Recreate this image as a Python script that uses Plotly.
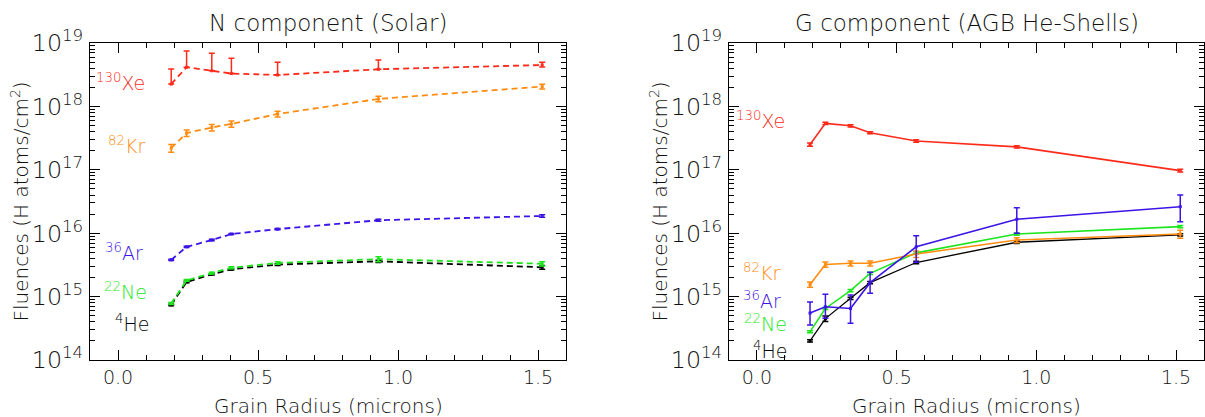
import plotly.graph_objects as go

# ---------------- data ----------------
radius = [0.19, 0.245, 0.335, 0.405, 0.57, 0.93, 1.515]

# N component (Solar)
xe_n = [2.25e18, 4.15e18, 3.65e18, 3.3e18, 3.13e18, 3.85e18, 4.5e18]
xe_n_hi = [3.89e18, 7.48e18, 6.89e18, 5.74e18, 4.96e18, 5.4e18, 4.97e18]
xe_n_lo = [2.25e18, 4.15e18, 3.65e18, 3.3e18, 3.13e18, 3.85e18, 4.2e18]
kr_n = [2.2e17, 3.8e17, 4.65e17, 5.3e17, 7.6e17, 1.31e18, 2.06e18]
kr_n_err = [0.3e17, 0.45e17, 0.55e17, 0.6e17, 0.8e17, 1.3e17, 1.8e17]
ar_n = [3.8e15, 6.1e15, 7.8e15, 9.7e15, 1.16e16, 1.6e16, 1.87e16]
ar_n_err = [1e14, 1.5e14, 2e14, 2e14, 3e14, 6e14, 9e14]
ne_n = [7.8e14, 1.8e15, 2.35e15, 2.85e15, 3.4e15, 3.9e15, 3.3e15]
ne_n_err = [3e13, 6e13, 8e13, 1e14, 1.5e14, 3.5e14, 2.5e14]
he_n = [7.4e14, 1.7e15, 2.25e15, 2.7e15, 3.2e15, 3.6e15, 2.9e15]
he_n_err = [2e13, 5e13, 6e13, 8e13, 1e14, 1.5e14, 2e14]

# G component (AGB He-Shells)
xe_g = [2.5e17, 5.4e17, 4.95e17, 3.85e17, 2.85e17, 2.3e17, 9.7e16]
xe_g_err = [1.5e16, 2e16, 2e16, 1.5e16, 1.2e16, 1e16, 5e15]
kr_g = [1.55e15, 3.2e15, 3.35e15, 3.35e15, 4.7e15, 7.8e15, 9.7e15]
kr_g_err = [1.5e14, 3e14, 3e14, 3e14, 5.5e14, 7e14, 1.4e15]
ar_g = [5.5e14, 6.9e14, 6.5e14, 1.66e15, 6.1e15, 1.66e16, 2.62e16]
ar_g_hi = [8.2e14, 1.09e15, 1.06e15, 2.42e15, 9.1e15, 2.52e16, 4.0e16]
ar_g_lo = [3.56e14, 4.55e14, 3.8e14, 1.13e15, 3.47e15, 9.95e15, 1.52e16]
ne_g = [2.8e14, 6.5e14, 1.24e15, 2.33e15, 4.9e15, 9.7e15, 1.27e16]
ne_g_err = [1e13, 2.5e13, 5e13, 9e13, 2e14, 4e14, 5e14]
he_g = [2.0e14, 4.5e14, 9.4e14, 1.66e15, 3.45e15, 7.2e15, 9.4e15]
he_g_err = [8e12, 4.5e13, 4e13, 7e13, 1.5e14, 3e14, 4e14]

titles = ["N component (Solar)", "G component (AGB He-Shells)"]
ytitle = "Fluences (H atoms/cm<sup>2</sup>)"
xtitle = "Grain Radius (microns)"

iso_names = ["<sup>130</sup>Xe", "<sup>82</sup>Kr", "<sup>36</sup>Ar", "<sup>22</sup>Ne", "<sup>4</sup>He"]
label_x_n = [0.105, 0.105, 0.098, 0.112, 0.119]
label_logy_n = [18.39, 17.39, 15.71, 15.09, 14.58]
label_x_g = [0.107, 0.088, 0.093, 0.115, 0.115]
label_logy_g = [17.79, 15.39, 14.95, 14.58, 14.16]

colors = ["#ff2a1a", "#ff8c10", "#3c14e6", "#1ee61e", "#000000"]

FONT = "DejaVu Sans"
W, H = 1205, 417

fig = go.Figure()


def add_series(xref, yref, y, up, dn, color, dash, width):
    fig.add_trace(go.Scatter(
        x=radius, y=y, mode="lines+markers", xaxis=xref, yaxis=yref,
        line=dict(color=color, width=width, dash=dash),
        marker=dict(color=color, size=3, symbol="square"),
        error_y=dict(type="data", symmetric=False, array=up, arrayminus=dn,
                     color=color, thickness=1.5, width=3),
        showlegend=False, hoverinfo="skip"))


dash_n = "6px,4px"
# N panel
add_series("x", "y", he_n, he_n_err, he_n_err, colors[4], dash_n, 1.8)
add_series("x", "y", ne_n, ne_n_err, ne_n_err, colors[3], dash_n, 1.8)
add_series("x", "y", ar_n, ar_n_err, ar_n_err, colors[2], dash_n, 1.8)
add_series("x", "y", kr_n, kr_n_err, kr_n_err, colors[1], dash_n, 1.8)
add_series("x", "y", xe_n,
           [h - v for h, v in zip(xe_n_hi, xe_n)],
           [v - l for l, v in zip(xe_n_lo, xe_n)], colors[0], dash_n, 1.8)
# G panel
add_series("x2", "y2", he_g, he_g_err, he_g_err, colors[4], "solid", 1.3)
add_series("x2", "y2", ne_g, ne_g_err, ne_g_err, colors[3], "solid", 1.6)
add_series("x2", "y2", kr_g, kr_g_err, kr_g_err, colors[1], "solid", 1.6)
add_series("x2", "y2", ar_g,
           [h - v for h, v in zip(ar_g_hi, ar_g)],
           [v - l for l, v in zip(ar_g_lo, ar_g)], colors[2], "solid", 1.6)
add_series("x2", "y2", xe_g, xe_g_err, xe_g_err, colors[0], "solid", 1.6)

ydom = [1 - 360 / H, 1 - 43 / H]
xdom1 = [90 / W, 566 / W]
xdom2 = [729 / W, 1204 / W]

axis_common = dict(showline=True, linecolor="black", linewidth=1, mirror="allticks",
                   ticks="inside", ticklen=10, tickcolor="black", tickwidth=1,
                   showgrid=False, zeroline=False, automargin=False,
                   tickfont=dict(family=FONT, size=19, color="#111", weight=200))

xax = dict(axis_common, range=[-0.1, 1.6], dtick=0.5, tick0=0, tickformat=".1f",
           minor=dict(ticks="inside", ticklen=5, dtick=0.1, tickcolor="black", showgrid=False),
           ticklabelstandoff=0)
yax = dict(axis_common, type="log", range=[14, 19], dtick=1, exponentformat="power",
           minor=dict(ticks="inside", ticklen=5, dtick="D1", tickcolor="black", showgrid=False),
           ticklabelstandoff=2)

fig.update_layout(
    width=W, height=H, margin=dict(l=0, r=0, t=0, b=0, autoexpand=False),
    plot_bgcolor="white", paper_bgcolor="white",
    xaxis=dict(xax, domain=xdom1, anchor="y"),
    yaxis=dict(yax, domain=ydom, anchor="x"),
    xaxis2=dict(xax, domain=xdom2, anchor="y2"),
    yaxis2=dict(yax, domain=ydom, anchor="x2"),
)

ann = []
title_font = dict(family=FONT, size=23, color="#111", weight=200)
for i, (dom, xr, yr) in enumerate([(xdom1, "x", "y"), (xdom2, "x2", "y2")]):
    cx = (dom[0] + dom[1]) / 2
    ann.append(dict(text=titles[i], x=cx, y=1 - 23 / H, xref="paper", yref="paper",
                    showarrow=False, font=title_font, xanchor="center", yanchor="middle"))
    ann.append(dict(text=xtitle, x=cx, y=1 - 406 / H, xref="paper", yref="paper",
                    showarrow=False, font=dict(family=FONT, size=20, color="#111", weight=200),
                    xanchor="center", yanchor="middle"))
    ann.append(dict(text=ytitle, x=(19 if i == 0 else 658) / W, y=(ydom[0] + ydom[1]) / 2,
                    xref="paper", yref="paper", textangle=-90, showarrow=False,
                    font=dict(family=FONT, size=20, color="#111", weight=200),
                    xanchor="center", yanchor="middle"))
    lx = label_x_n if i == 0 else label_x_g
    ly = label_logy_n if i == 0 else label_logy_g
    for name, x, y, c in zip(iso_names, lx, ly, colors):
        ann.append(dict(text=name, x=x, y=y, xref=xr, yref=yr, showarrow=False,
                        font=dict(family=FONT, size=19, color=c, weight=300),
                        xanchor="right", yanchor="middle"))

fig.update_layout(annotations=ann)
fig.write_html("out.html")
